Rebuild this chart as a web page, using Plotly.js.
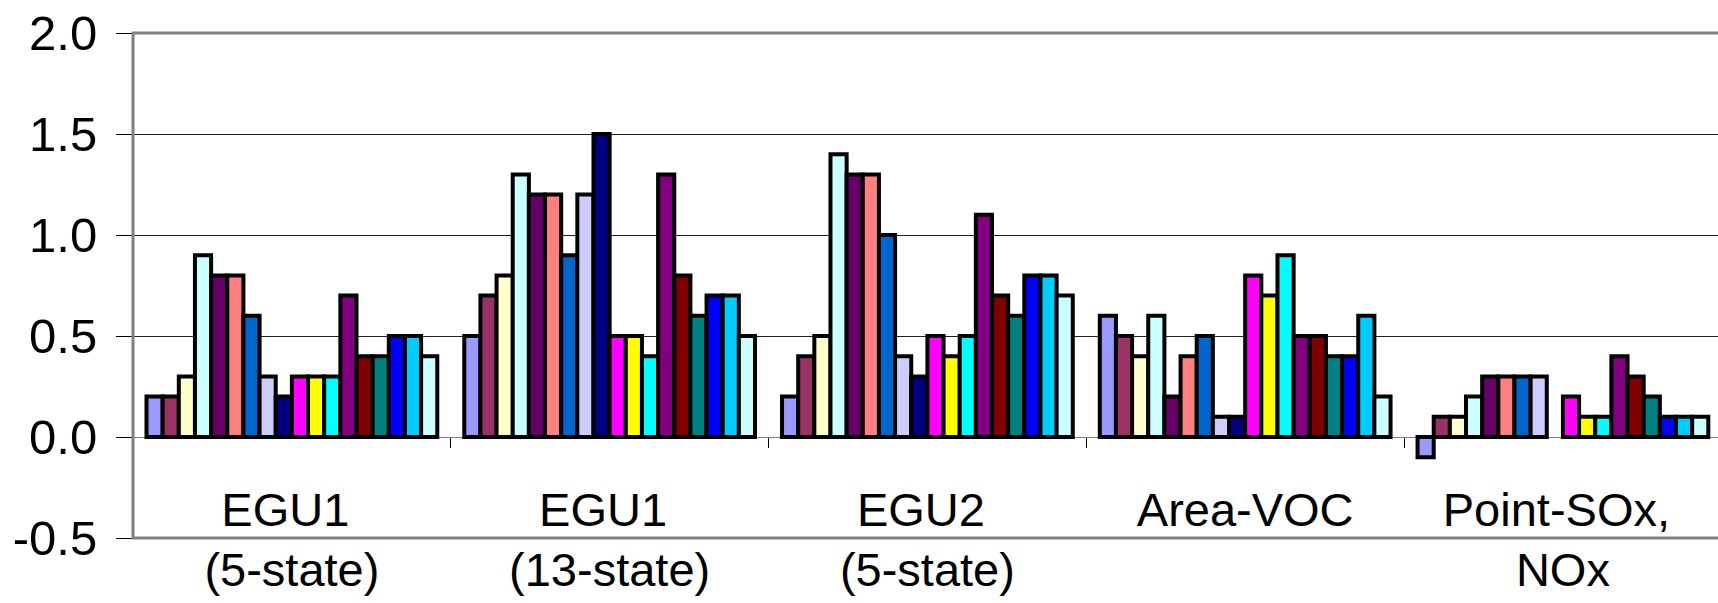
<!DOCTYPE html>
<html>
<head>
<meta charset="utf-8">
<script src="https://cdn.plot.ly/plotly-3.0.1.min.js"></script>
<style>
  html, body { margin: 0; padding: 0; background: #fff; }
  #chart { width: 1718px; height: 603px; }
</style>
</head>
<body>
<div id="chart"></div>
<script>
// Categories (x axis) and their two label lines
const categories = ["EGU1 (5-state)", "EGU1 (13-state)", "EGU2 (5-state)", "Area-VOC", "Point-SOx, NOx"];
const labelLine1 = ["EGU1\u00A0", "EGU1\u00A0", "EGU2\u00A0", "Area-VOC", "Point-SOx,\u00A0"];
const labelLine2 = ["(5-state)", "(13-state)", "(5-state)", "", "NOx"];

// Values per category, one entry per series (18 series)
const egu1_5state  = [0.2, 0.2, 0.3, 0.9, 0.8, 0.8, 0.6, 0.3, 0.2, 0.3, 0.3, 0.3, 0.7, 0.4, 0.4, 0.5, 0.5, 0.4];
const egu1_13state = [0.5, 0.7, 0.8, 1.3, 1.2, 1.2, 0.9, 1.2, 1.5, 0.5, 0.5, 0.4, 1.3, 0.8, 0.6, 0.7, 0.7, 0.5];
const egu2_5state  = [0.2, 0.4, 0.5, 1.4, 1.3, 1.3, 1.0, 0.4, 0.3, 0.5, 0.4, 0.5, 1.1, 0.7, 0.6, 0.8, 0.8, 0.7];
const areaVOC      = [0.6, 0.5, 0.4, 0.6, 0.2, 0.4, 0.5, 0.1, 0.1, 0.8, 0.7, 0.9, 0.5, 0.5, 0.4, 0.4, 0.6, 0.2];
const pointSOxNOx  = [-0.1, 0.1, 0.1, 0.2, 0.3, 0.3, 0.3, 0.3, null, 0.2, 0.1, 0.1, 0.4, 0.3, 0.2, 0.1, 0.1, 0.1];

// Series colours
const seriesColors = ["#9999FF", "#993366", "#FFFFCC", "#CCFFFF", "#660066", "#FF8080",
                      "#0066CC", "#CCCCFF", "#000080", "#FF00FF", "#FFFF00", "#00FFFF",
                      "#800080", "#800000", "#008080", "#0000FF", "#00CCFF", "#CCFFFF"];

// Y tick labels
const yTickValues = [-0.5, 0.0, 0.5, 1.0, 1.5, 2.0];
const yTickLabels = ["-0.5", "0.0", "0.5", "1.0", "1.5", "2.0"];

const byCategory = [egu1_5state, egu1_13state, egu2_5state, areaVOC, pointSOxNOx];

const FONT = "'Liberation Sans', Arial, sans-serif";
const X_RANGE = [-0.5, 4.488];

const traces = seriesColors.map((c, i) => ({
  type: 'bar',
  name: 'Series ' + (i + 1),
  x: categories,
  y: byCategory.map(arr => arr[i]),
  marker: { color: c, line: { color: '#000000', width: 4 } },
  hoverinfo: 'y'
}));

// Empty helper trace so that the second-line label axis is drawn
traces.push({ type: 'scatter', mode: 'markers', x: [], y: [], xaxis: 'x2', yaxis: 'y', showlegend: false, hoverinfo: 'skip' });

const layout = {
  width: 1718,
  height: 603,
  margin: { l: 133, r: 0, t: 33, b: 65, pad: 0 },
  paper_bgcolor: '#ffffff',
  plot_bgcolor: '#ffffff',
  showlegend: false,
  barmode: 'group',
  bargap: 0.085,
  bargroupgap: 0,
  font: { family: FONT, color: '#000000' },
  xaxis: {
    type: 'category',
    range: X_RANGE,
    anchor: 'free',
    position: 0.2,
    tickmode: 'array',
    tickvals: categories,
    ticktext: labelLine1,
    showgrid: false,
    showline: false,
    zeroline: false,
    ticks: 'outside',
    tickson: 'boundaries',
    ticklen: 10,
    tickwidth: 1,
    tickcolor: '#000000',
    tickfont: { family: FONT, size: 47, color: '#000000' },
    ticklabelstandoff: 41,
    automargin: false,
    fixedrange: true
  },
  xaxis2: {
    type: 'linear',
    overlaying: 'x',
    range: X_RANGE,
    anchor: 'free',
    position: 0.2,
    side: 'bottom',
    tickmode: 'array',
    tickvals: categories.map((_, i) => i),
    ticktext: labelLine2,
    showgrid: false,
    showline: false,
    zeroline: false,
    ticks: '',
    tickfont: { family: FONT, size: 47, color: '#000000' },
    ticklabelstandoff: 101,
    automargin: false,
    fixedrange: true
  },
  yaxis: {
    range: [-0.5, 2.0],
    tickmode: 'array',
    tickvals: yTickValues,
    ticktext: yTickLabels,
    ticks: 'outside',
    ticklen: 16,
    tickwidth: 1,
    tickcolor: '#000000',
    showgrid: true,
    gridcolor: '#202020',
    gridwidth: 1,
    zeroline: true,
    zerolinecolor: '#808080',
    zerolinewidth: 1,
    showline: false,
    tickfont: { family: FONT, size: 49, color: '#000000' },
    ticklabelstandoff: 9,
    automargin: false,
    fixedrange: true
  },
  shapes: [{
    type: 'rect', xref: 'paper', yref: 'paper',
    x0: 0, x1: 1.02, y0: 0, y1: 1,
    line: { color: '#808080', width: 3 },
    fillcolor: 'rgba(0,0,0,0)',
    layer: 'above'
  }]
};

Plotly.newPlot('chart', traces, layout, { displayModeBar: false, staticPlot: true });
</script>
</body>
</html>
